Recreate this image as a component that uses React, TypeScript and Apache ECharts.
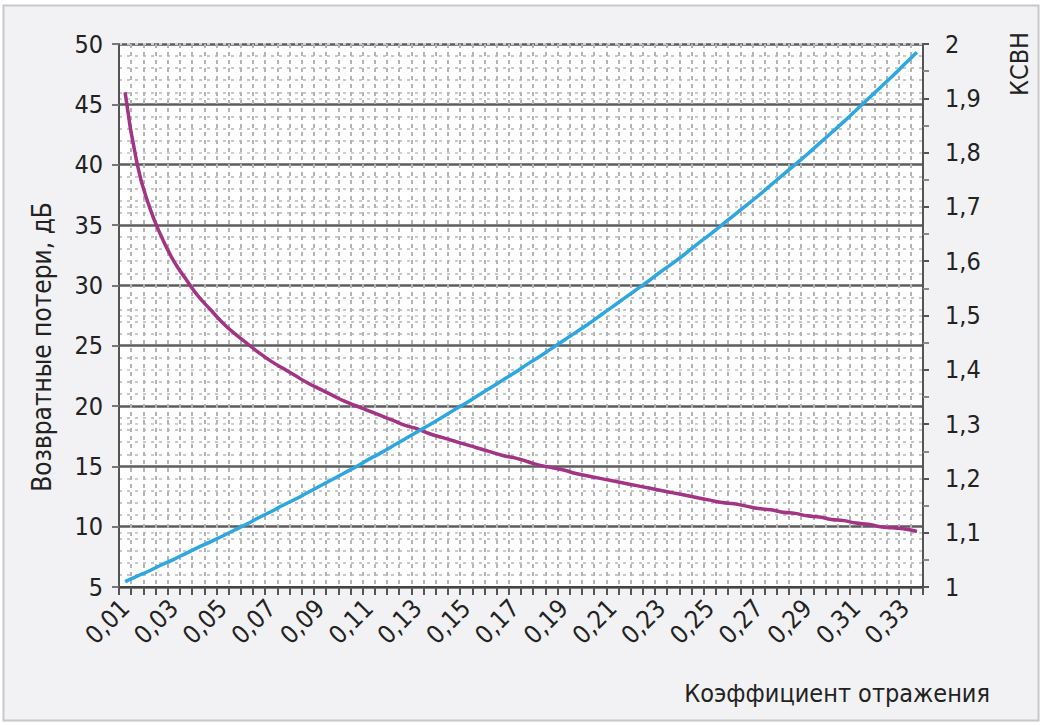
import React, { useEffect, useRef } from "react";
import * as echarts from "echarts";

const gamma = [
  "0,005", "0,01", "0,015", "0,02", "0,025", "0,03", "0,035", "0,04", "0,045", "0,05",
  "0,055", "0,06", "0,065", "0,07", "0,075", "0,08", "0,085", "0,09", "0,095", "0,1",
  "0,105", "0,11", "0,115", "0,12", "0,125", "0,13", "0,135", "0,14", "0,145", "0,15",
  "0,155", "0,16", "0,165", "0,17", "0,175", "0,18", "0,185", "0,19", "0,195", "0,2",
  "0,205", "0,21", "0,215", "0,22", "0,225", "0,23", "0,235", "0,24", "0,245", "0,25",
  "0,255", "0,26", "0,265", "0,27", "0,275", "0,28", "0,285", "0,29", "0,295", "0,3",
  "0,305", "0,31", "0,315", "0,32", "0,325", "0,33",
];

const xTickLabels = [
  "0,01", "0,03", "0,05", "0,07", "0,09", "0,11", "0,13", "0,15", "0,17",
  "0,19", "0,21", "0,23", "0,25", "0,27", "0,29", "0,31", "0,33",
];

const returnLoss = [
  46.0, 40.0, 36.5, 34.0, 32.0, 30.5, 29.1, 28.0, 26.9, 26.0,
  25.2, 24.4, 23.7, 23.1, 22.5, 21.9, 21.4, 20.9, 20.4, 20.0,
  19.6, 19.2, 18.8, 18.4, 18.1, 17.7, 17.4, 17.1, 16.8, 16.5,
  16.2, 15.9, 15.7, 15.4, 15.1, 14.9, 14.7, 14.4, 14.2, 14.0,
  13.8, 13.6, 13.4, 13.2, 13.0, 12.8, 12.6, 12.4, 12.2, 12.0,
  11.9, 11.7, 11.5, 11.4, 11.2, 11.1, 10.9, 10.8, 10.6, 10.5,
  10.3, 10.2, 10.0, 9.9, 9.8, 9.6,
];

const vswr = [
  1.010, 1.020, 1.030, 1.041, 1.051, 1.062, 1.073, 1.083, 1.094, 1.105,
  1.116, 1.128, 1.139, 1.151, 1.162, 1.174, 1.186, 1.198, 1.210, 1.222,
  1.235, 1.247, 1.260, 1.273, 1.286, 1.299, 1.312, 1.326, 1.339, 1.353,
  1.367, 1.381, 1.395, 1.410, 1.424, 1.439, 1.454, 1.469, 1.484, 1.500,
  1.516, 1.532, 1.548, 1.564, 1.581, 1.597, 1.614, 1.632, 1.649, 1.667,
  1.685, 1.703, 1.721, 1.740, 1.759, 1.778, 1.797, 1.817, 1.837, 1.857,
  1.878, 1.899, 1.920, 1.941, 1.963, 1.985,
];

const FONT = "'Liberation Sans Narrow', 'DejaVu Sans Condensed', 'Roboto Condensed', Roboto, sans-serif";
const TXT = "#222";

export default function App() {
  const ref = useRef<HTMLDivElement>(null);
  useEffect(() => {
    document.body.style.margin = "0";
    const chart = echarts.init(ref.current!, null, { renderer: "svg" });
    chart.setOption({
      animation: false,
      backgroundColor: "#ffffff",
      grid: {
        left: 119, right: 123, top: 44, bottom: 138,
        show: true, backgroundColor: "#ffffff", borderWidth: 0,
      },
      graphic: [
        {
          type: "rect", z: -10, silent: true,
          shape: { x: 3.5, y: 5.5, width: 1035, height: 715 },
          style: { fill: "#f2f2f4", stroke: "#c8c8c8", lineWidth: 2 },
        },
        {
          type: "text", x: 42, y: 347, rotation: Math.PI / 2,
          style: {
            text: "Возвратные потери, дБ", font: `26px ${FONT}`, fill: TXT,
            align: "center", verticalAlign: "middle",
          },
        },
        {
          type: "text", x: 1019, y: 64, rotation: Math.PI / 2,
          style: {
            text: "КСВН", font: `25px ${FONT}`, fill: TXT,
            align: "center", verticalAlign: "middle",
          },
        },
        {
          type: "text", x: 990, y: 693,
          style: {
            text: "Коэффициент отражения", font: `25px ${FONT}`, fill: TXT,
            align: "right", verticalAlign: "middle",
          },
        },
      ],
      xAxis: {
        type: "category",
        data: gamma,
        boundaryGap: true,
        axisLine: { show: true, onZero: false, lineStyle: { color: "#444", width: 2 } },
        axisTick: { show: true, interval: 0, length: 8, lineStyle: { color: "#555", width: 2 } },
        axisLabel: {
          interval: 3,
          rotate: 45,
          margin: 17,
          fontSize: 25,
          fontFamily: FONT,
          color: TXT,
          formatter: (_v: string, i: number) => xTickLabels[Math.round(i / 4)] ?? "",
        },
        splitLine: {
          show: true, interval: 0,
          lineStyle: { color: "#b4b4b4", width: 2, type: [4, 4] },
        },
      },
      yAxis: [
        {
          type: "value", min: 5, max: 50, interval: 5,
          axisLine: { show: true, lineStyle: { color: "#555", width: 2 } },
          axisTick: { show: true, length: 7, lineStyle: { color: "#777", width: 2 } },
          axisLabel: { fontSize: 25, fontFamily: FONT, color: TXT, margin: 16 },
          splitLine: { show: true, lineStyle: { color: "#5c5c5c", width: 2.5 } },
          minorTick: { show: false, splitNumber: 5 },
          minorSplitLine: { show: true, lineStyle: { color: "#c8c8c8", width: 2, type: [3, 5] } },
        },
        {
          type: "value", min: 1, max: 2, interval: 0.1,
          axisLine: { show: true, lineStyle: { color: "#555", width: 2 } },
          axisTick: { show: true, length: 6, lineStyle: { color: "#555", width: 2 } },
          minorTick: { show: true, splitNumber: 2, length: 6, lineStyle: { color: "#888", width: 2 } },
          axisLabel: {
            fontSize: 25, fontFamily: FONT, color: TXT, margin: 22,
            formatter: (v: number) => String(Math.round(v * 10) / 10).replace(".", ","),
          },
          splitLine: { show: true, lineStyle: { color: "#d0d0d0", width: 2, type: [3, 5] } },
        },
      ],
      series: [
        {
          name: "Возвратные потери",
          type: "line",
          yAxisIndex: 0,
          data: returnLoss,
          smooth: true,
          showSymbol: false,
          lineStyle: { color: "#a33384", width: 3.5 },
        },
        {
          name: "КСВН",
          type: "line",
          yAxisIndex: 1,
          data: vswr,
          smooth: true,
          showSymbol: false,
          lineStyle: { color: "#2ea7e0", width: 3.5 },
        },
      ],
    });
    return () => chart.dispose();
  }, []);
  return (
    <div
      ref={ref}
      style={{ position: "absolute", left: 0, top: 0, width: 1046, height: 725 }}
    />
  );
}
